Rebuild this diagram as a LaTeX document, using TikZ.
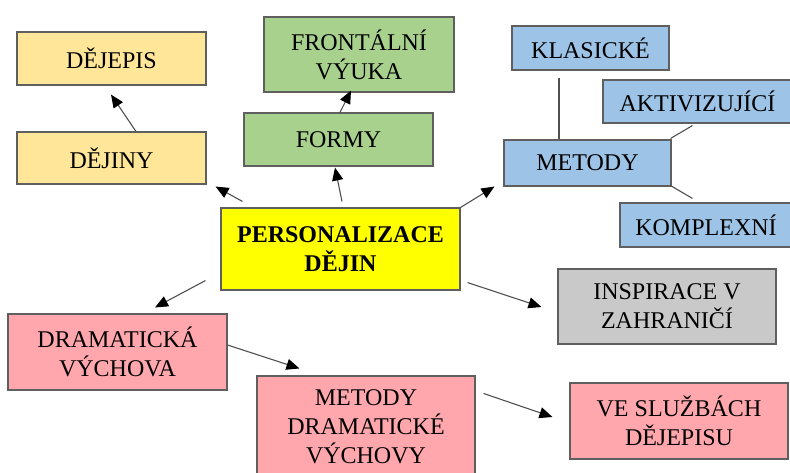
\documentclass[tikz,border=0pt]{standalone}
\usepackage{fontspec}
\setmainfont{Liberation Serif}
\usetikzlibrary{arrows.meta,calc}
\definecolor{paleyellow}{HTML}{FFE699}
\definecolor{palegreen}{HTML}{A9D18E}
\definecolor{paleblue}{HTML}{9DC3E6}
\definecolor{brightyellow}{HTML}{FFFF00}
\definecolor{palegray}{HTML}{C9C9C9}
\definecolor{palepink}{HTML}{FFA7AD}
\definecolor{framegray}{HTML}{5F5F5F}
\definecolor{linegray}{HTML}{505050}
\begin{document}
\begin{tikzpicture}[x=1pt,y=-1pt,
  box/.style={draw=framegray,line width=1.1pt,inner sep=0pt,align=center,
    font=\fontsize{24}{29}\selectfont},
  yel/.style={box,fill=paleyellow},
  grn/.style={box,fill=palegreen},
  blu/.style={box,fill=paleblue},
  pnk/.style={box,fill=palepink},
  arr/.style={draw=linegray,line width=1.1pt,
    -{Triangle[length=13pt,width=11pt,color=black]}},
  link/.style={draw=linegray,line width=1.1pt}]
\useasboundingbox (0,0) rectangle (790,472);
\begin{scope}
\clip (0,0) rectangle (790,472);
% boxes
\node[yel,minimum width=189pt,minimum height=53pt] (dejepis) at (111.5,58.5) {DĚJEPIS};
\node[yel,minimum width=189pt,minimum height=52pt] (dejiny) at (111.5,158) {DĚJINY};
\node[grn,minimum width=190pt,minimum height=75pt] (frontalni) at (359,54.5) {FRONTÁLNÍ\\VÝUKA};
\node[grn,minimum width=189pt,minimum height=53pt] (formy) at (338.5,139.5) {FORMY};
\node[blu,minimum width=157pt,minimum height=44pt] (klasicke) at (590.5,48) {KLASICKÉ};
\node[blu,minimum width=189pt,minimum height=43pt] (aktiv) at (697.5,101.5) {AKTIVIZUJÍCÍ};
\node[blu,minimum width=167pt,minimum height=46pt] (metody) at (587.5,163) {METODY};
\node[blu,minimum width=172pt,minimum height=44pt] (kompl) at (706,225) {KOMPLEXNÍ};
\node[box,fill=brightyellow,minimum width=239pt,minimum height=82pt,
  font=\fontsize{24}{29}\selectfont\bfseries] (pers) at (340.5,249) {PERSONALIZACE\\DĚJIN};
\node[box,fill=palegray,minimum width=218pt,minimum height=75pt] (inspir) at (667,306.5) {INSPIRACE V\\ZAHRANIČÍ};
\node[pnk,minimum width=219pt,minimum height=76pt] (dram) at (117.5,352) {DRAMATICKÁ\\VÝCHOVA};
\node[pnk,minimum width=218pt,minimum height=102pt] (md) at (366,427) {METODY\\DRAMATICKÉ\\VÝCHOVY};
\node[pnk,minimum width=218pt,minimum height=76pt] (ve) at (679,421) {VE SLUŽBÁCH\\DĚJEPISU};
% arrows
\draw[arr] ($(dejiny.north)+(24.5,0)$) -- ($(dejepis.south)+(-0.5,9)$);
\draw[arr] ($(formy.north)+(1.5,0)$) -- ($(frontalni.south)+(-8,-2)$);
\draw[arr] ($(pers.north west)+(22,-6)$) -- ($(dejiny.south east)+(9,2)$);
\draw[arr] ($(pers.north)+(1.5,-6)$) -- ($(formy.south)+(-3.5,1)$);
\draw[arr] (pers.north east) -- ($(metody.south west)+(-9,0)$);
\draw[arr] ($(pers.south west)+(-15,-10)$) -- ($(dram.north)+(37.5,-6)$);
\draw[arr] ($(pers.south east)+(7,-8)$) -- ($(inspir.west)+(-16,0.5)$);
\draw[arr] ($(dram.east)+(0,-7)$) -- ($(md.north west)+(43,-7)$);
\draw[arr] ($(md.north east)+(8,18)$) -- ($(ve.west)+(-17,-4)$);
% plain links of the method groups
\draw[link] ($(klasicke.south)+(-31.5,7)$) -- ($(metody.north)+(-28.5,0)$);
\draw[link] ($(metody.north east)+(-1,-1)$) -- ($(aktiv.south west)+(90,2)$);
\draw[link] ($(metody.south east)+(-1,-1)$) -- ($(kompl.north west)+(73,-4)$);
\end{scope}
\end{tikzpicture}
\end{document}
